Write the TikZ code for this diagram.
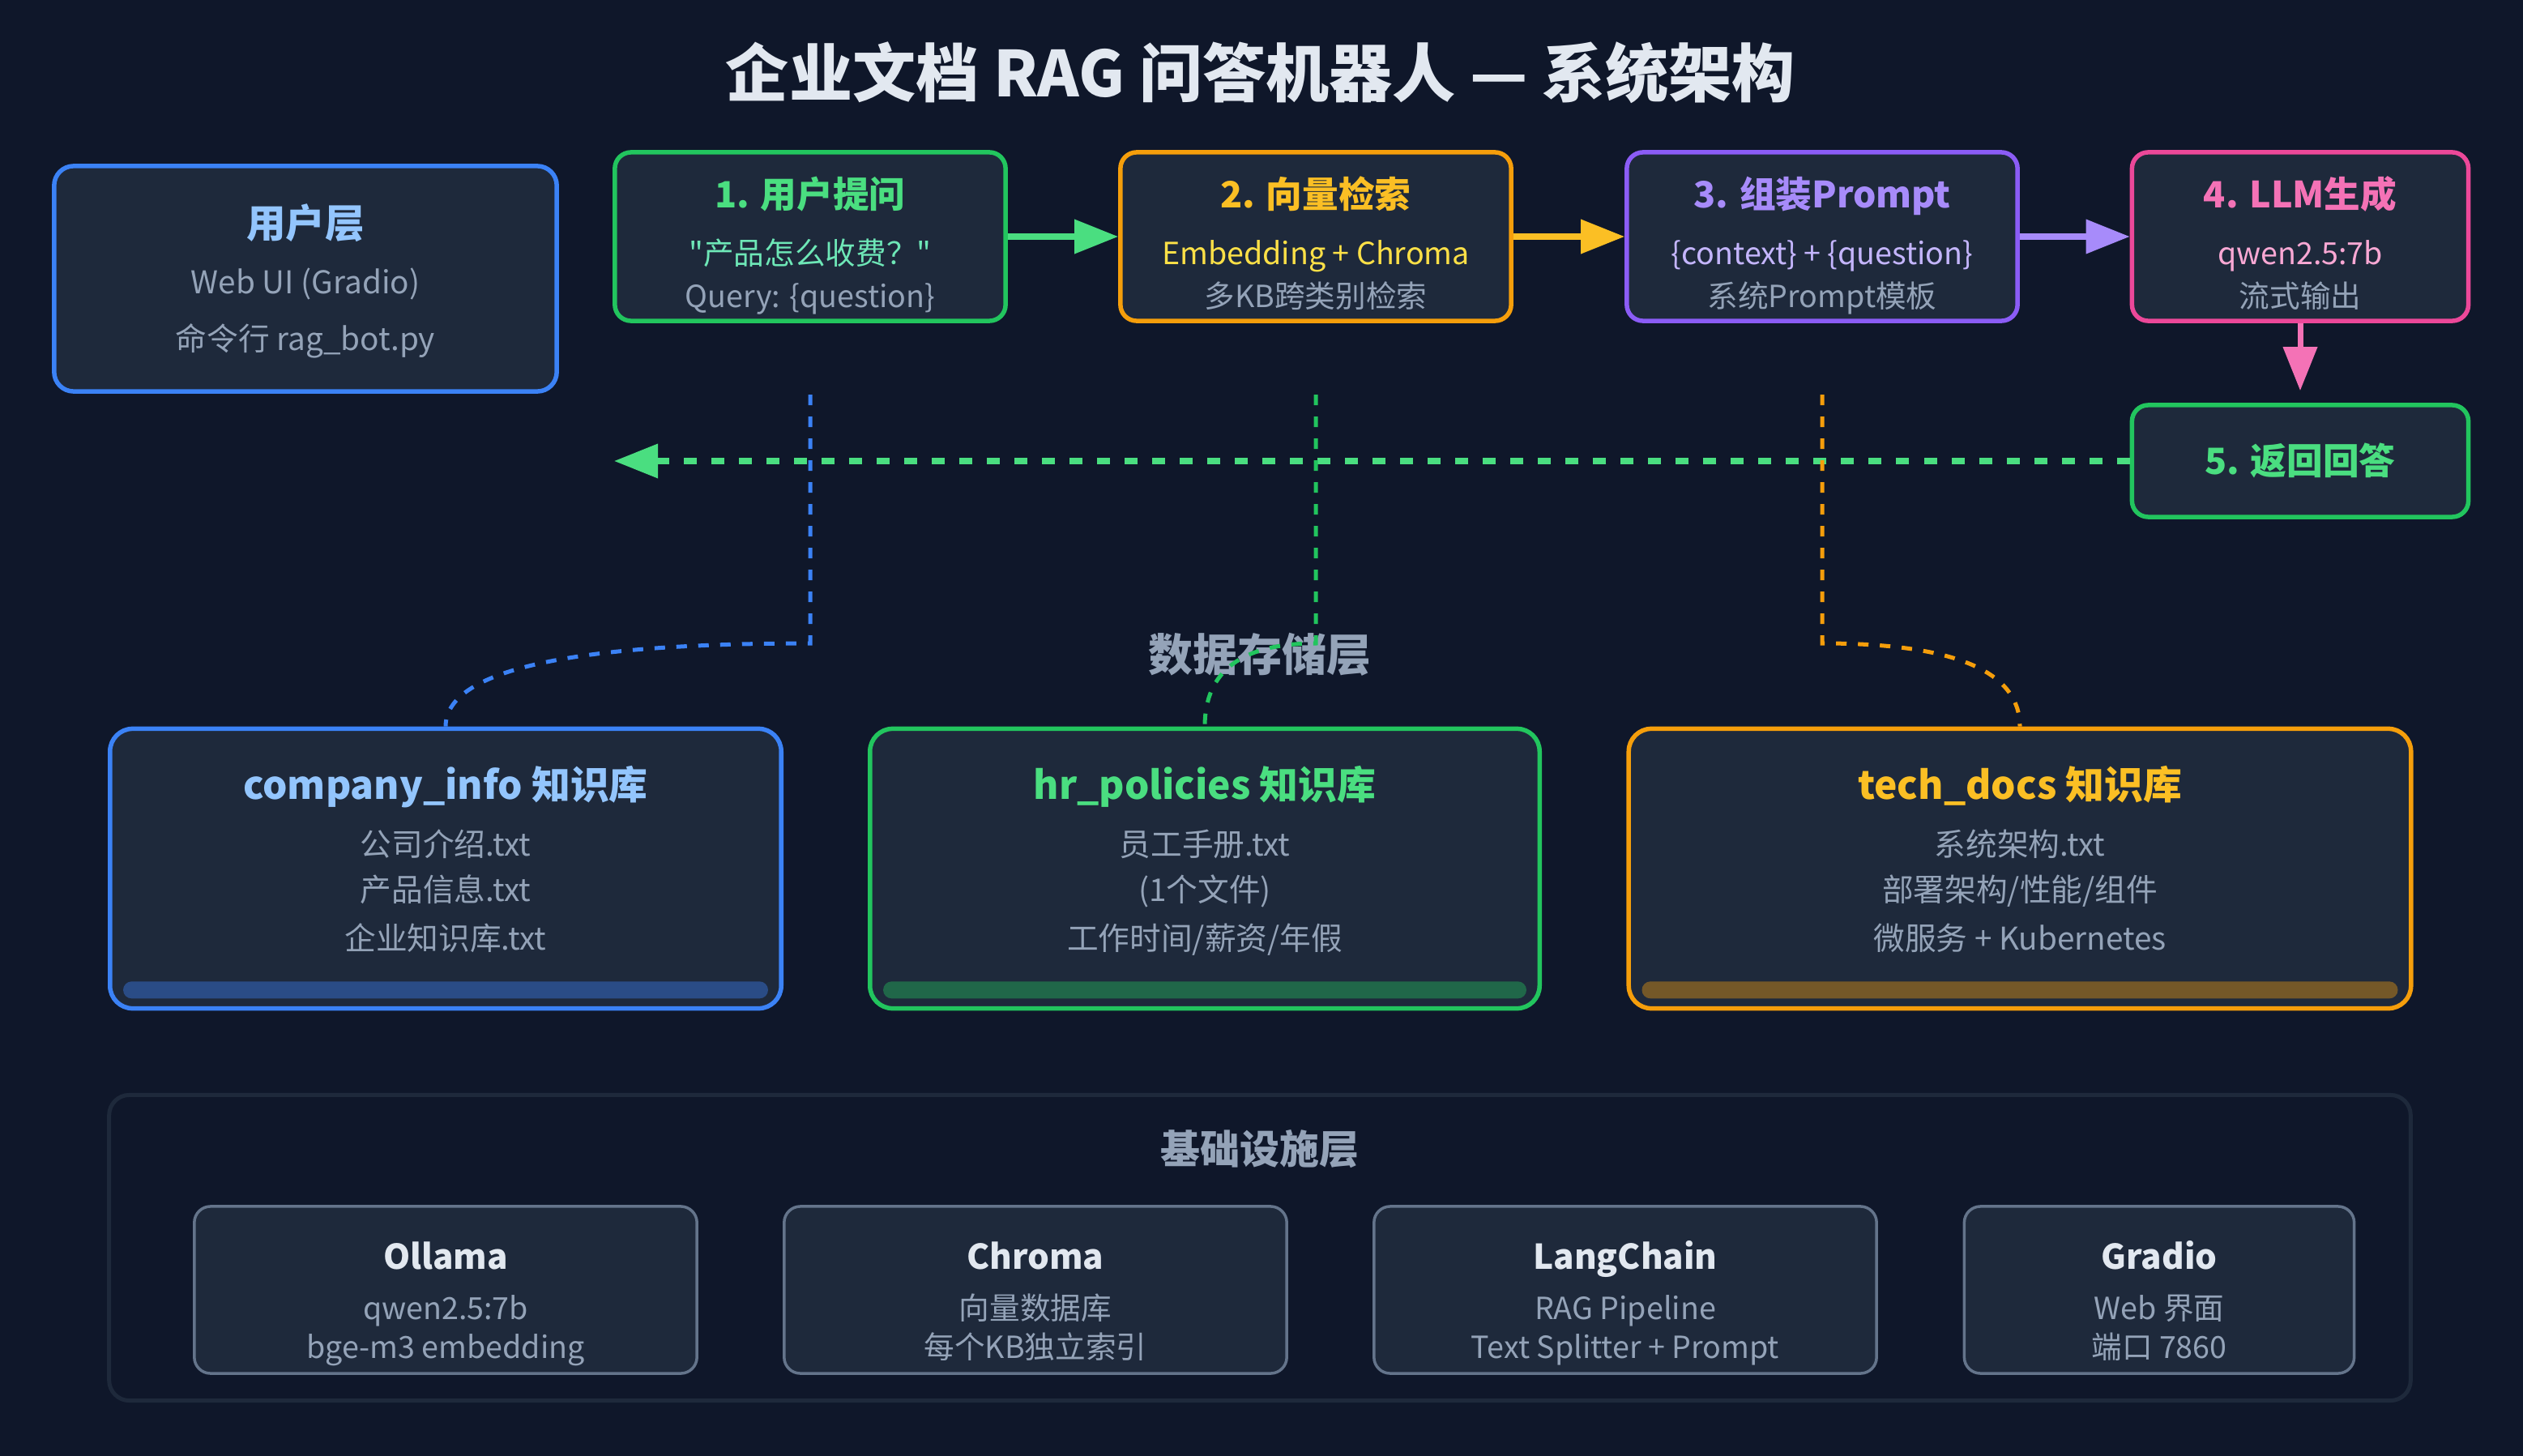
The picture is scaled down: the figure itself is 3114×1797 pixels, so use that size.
\documentclass[tikz,border=0pt]{standalone}
\usepackage{fontspec}
\setmainfont{Noto Sans CJK SC}[Ligatures=TeXOff]
\usetikzlibrary{arrows.meta,calc}
\definecolor{Pagebg}{HTML}{0F172A}
\definecolor{Cardbg}{HTML}{1E293B}
\definecolor{Mutedgray}{HTML}{94A3B8}
\definecolor{Lighttext}{HTML}{E2E8F0}
\definecolor{Edgegray}{HTML}{64748B}
\definecolor{Blueline}{HTML}{3B82F6}
\definecolor{Bluetext}{HTML}{93C5FD}
\definecolor{Greenline}{HTML}{22C55E}
\definecolor{Greentext}{HTML}{4ADE80}
\definecolor{Minttext}{HTML}{6EE7B7}
\definecolor{Orangeline}{HTML}{F59E0B}
\definecolor{Ambertext}{HTML}{FBBF24}
\definecolor{Yellowtext}{HTML}{FDE047}
\definecolor{Purpleline}{HTML}{8B5CF6}
\definecolor{Purpletext}{HTML}{A78BFA}
\definecolor{Lavendertext}{HTML}{C4B5FD}
\definecolor{Pinkline}{HTML}{EC4899}
\definecolor{Pinktext}{HTML}{F472B6}
\definecolor{Rosetext}{HTML}{F9A8D4}
\newcommand{\fsz}[1]{\fontsize{#1pt}{#1pt}\selectfont}
\tikzset{
  card/.style={draw=#1, fill=Cardbg, line width=0.055cm, rounded corners=0.2cm, inner sep=0pt},
  stepcard/.style={card=#1, minimum width=4.82cm, minimum height=2.08cm},
  kbcard/.style={card=#1, rounded corners=0.28cm, minimum height=3.45cm},
  infracard/.style={draw=Edgegray, fill=Cardbg, line width=0.035cm, rounded corners=0.2cm, inner sep=0pt, minimum height=2.06cm},
  txt/.style={inner sep=0pt, font=\fsz{#1}, text height=\dimexpr#1pt*86/100\relax, text depth=\dimexpr#1pt/10\relax},
  btxt/.style={inner sep=0pt, font={\fsz{#1}\bfseries}, text height=\dimexpr#1pt*86/100\relax, text depth=\dimexpr#1pt/10\relax},
  flow/.style={line width=0.07cm, -{Triangle[length=0.54cm,width=0.41cm]}},
  kblink/.style={line width=0.05cm, dash pattern=on 0.13cm off 0.14cm},
}
\begin{document}
\begin{tikzpicture}[x=0.01cm, y=-0.01cm]
  \fill[Pagebg] (0,0) rectangle (3114,1797);
  \useasboundingbox (0,0) rectangle (3114,1797);

  \node[btxt=22.2, text=Lighttext] (title) at (1556,90) {企业文档 RAG 问答机器人 — 系统架构};

  % user layer
  \node[card=Blueline, rounded corners=0.24cm, minimum width=6.2cm, minimum height=2.78cm] (user) at (377,344) {};
  \node[btxt=13.8, text=Bluetext] (usert) at (377,275) {用户层};
  \node[txt=11, text=Mutedgray] (usera) at (377,348) {Web UI (Gradio)};
  \node[txt=11, text=Mutedgray] (userb) at (377,418) {命令行 rag\_bot.py};

  % pipeline steps
  \node[stepcard=Greenline] (q1) at (1000,292) {};
  \node[btxt=12.7, text=Greentext] (q1t) at (1000,240) {1. 用户提问};
  \node[txt=10.7, text=Minttext] (q1a) at (1000,312) {"产品怎么收费？"};
  \node[txt=10.7, text=Mutedgray] (q1b) at (1000,365) {Query: \{question\}};

  \node[stepcard=Orangeline] (q2) at (1624,292) {};
  \node[btxt=12.7, text=Ambertext] (q2t) at (1624,240) {2. 向量检索};
  \node[txt=10.7, text=Yellowtext] (q2a) at (1624,312) {Embedding + Chroma};
  \node[txt=10.7, text=Mutedgray] (q2b) at (1624,365) {多KB跨类别检索};

  \node[stepcard=Purpleline] (q3) at (2249,292) {};
  \node[btxt=12.7, text=Purpletext] (q3t) at (2249,240) {3. 组装Prompt};
  \node[txt=10.7, text=Lavendertext] (q3a) at (2249,312) {\{context\} + \{question\}};
  \node[txt=10.7, text=Mutedgray] (q3b) at (2249,365) {系统Prompt模板};

  \node[stepcard=Pinkline, minimum width=4.15cm] (q4) at (2839,292) {};
  \node[btxt=12.7, text=Pinktext] (q4t) at (2839,240) {4. LLM生成};
  \node[txt=10.7, text=Rosetext] (q4a) at (2839,312) {qwen2.5:7b};
  \node[txt=10.7, text=Mutedgray] (q4b) at (2839,365) {流式输出};

  \node[stepcard=Greenline, minimum width=4.15cm, minimum height=1.38cm] (ans) at (2839,569) {};
  \node[btxt=12.7, text=Greentext] (anst) at (2839,569) {5. 返回回答};

  \draw[flow, Greentext] (q1.east) -- (q2.west);
  \draw[flow, Ambertext] (q2.east) -- (q3.west);
  \draw[flow, Purpletext] (q3.east) -- (q4.west);
  \draw[flow, Pinktext, shorten >=0.15cm] (q4.south) -- (ans.north);

  \coordinate (ret) at (758,569);
  \draw[flow, Greentext, dash pattern=on 0.16cm off 0.18cm] (ans.west) -- (ret);

  % knowledge bases
  \node[btxt=15.6, text=Mutedgray] (store) at (1555,808) {数据存储层};

  \node[kbcard=Blueline, minimum width=8.28cm] (kb1) at (550,1072) {};
  \node[btxt=13.6, text=Bluetext] (kb1t) at (550,968) {company\_info 知识库};
  \node[txt=11, text=Mutedgray] (kb1a) at (550,1042) {公司介绍.txt};
  \node[txt=11, text=Mutedgray] (kb1b) at (550,1098) {产品信息.txt};
  \node[txt=11, text=Mutedgray] (kb1c) at (550,1158) {企业知识库.txt};

  \node[kbcard=Greenline, minimum width=8.26cm] (kb2) at (1487,1072) {};
  \node[btxt=13.6, text=Greentext] (kb2t) at (1487,968) {hr\_policies 知识库};
  \node[txt=11, text=Mutedgray] (kb2a) at (1487,1042) {员工手册.txt};
  \node[txt=11, text=Mutedgray] (kb2b) at (1487,1098) {(1个文件)};
  \node[txt=11, text=Mutedgray] (kb2c) at (1487,1158) {工作时间/薪资/年假};

  \node[kbcard=Orangeline, minimum width=9.65cm] (kb3) at (2493,1072) {};
  \node[btxt=13.6, text=Ambertext] (kb3t) at (2493,968) {tech\_docs 知识库};
  \node[txt=11, text=Mutedgray] (kb3a) at (2493,1042) {系统架构.txt};
  \node[txt=11, text=Mutedgray] (kb3b) at (2493,1098) {部署架构/性能/组件};
  \node[txt=11, text=Mutedgray] (kb3c) at (2493,1158) {微服务 + Kubernetes};

  \foreach \k/\c in {kb1/Blueline, kb2/Greenline, kb3/Orangeline}{
    \fill[\c!40!Cardbg, rounded corners=0.105cm] ([shift={(0.19cm,0.15cm)}]\k.south west) rectangle ([shift={(-0.19cm,0.36cm)}]\k.south east);
  }

  % retrieval links down to the stores
  \foreach \x/\k/\c in {1000/kb1/Blueline, 1624/kb2/Greenline, 2249/kb3/Orangeline}{
    \coordinate (\k top) at (\x,487);
    \coordinate (\k bend) at (\x,794);
    \draw[kblink, \c] (\k top) -- (\k bend)
      .. controls ($(\k bend)!2/3!(\k.north |- \k bend)$) and ($(\k.north)!2/3!(\k.north |- \k bend)$) .. (\k.north);
  }

  % infrastructure
  \node[draw=Cardbg, line width=0.05cm, rounded corners=0.25cm, minimum width=28.39cm, minimum height=3.77cm] (infra) at (1555,1540) {};
  \node[btxt=13.9, text=Mutedgray] (infrat) at (1555,1418) {基础设施层};
  \foreach \n/\x/\w/\ttl/\la/\lb in {ollama/550/6.2/Ollama/qwen2.5:7b/bge-m3 embedding,
      chroma/1278/6.2/Chroma/向量数据库/每个KB独立索引,
      langchain/2006/6.2/LangChain/RAG Pipeline/Text Splitter + Prompt,
      gradio/2665/4.81/Gradio/Web 界面/端口 7860}{
    \node[infracard, minimum width=\w cm] (\n) at (\x,1592) {};
    \node[btxt=12, text=Lighttext] (\n t) at (\x,1550) {\ttl};
    \node[txt=10.7, text=Mutedgray] (\n a) at (\x,1614) {\la};
    \node[txt=10.7, text=Mutedgray] (\n b) at (\x,1662) {\lb};
  }
\end{tikzpicture}
\end{document}
